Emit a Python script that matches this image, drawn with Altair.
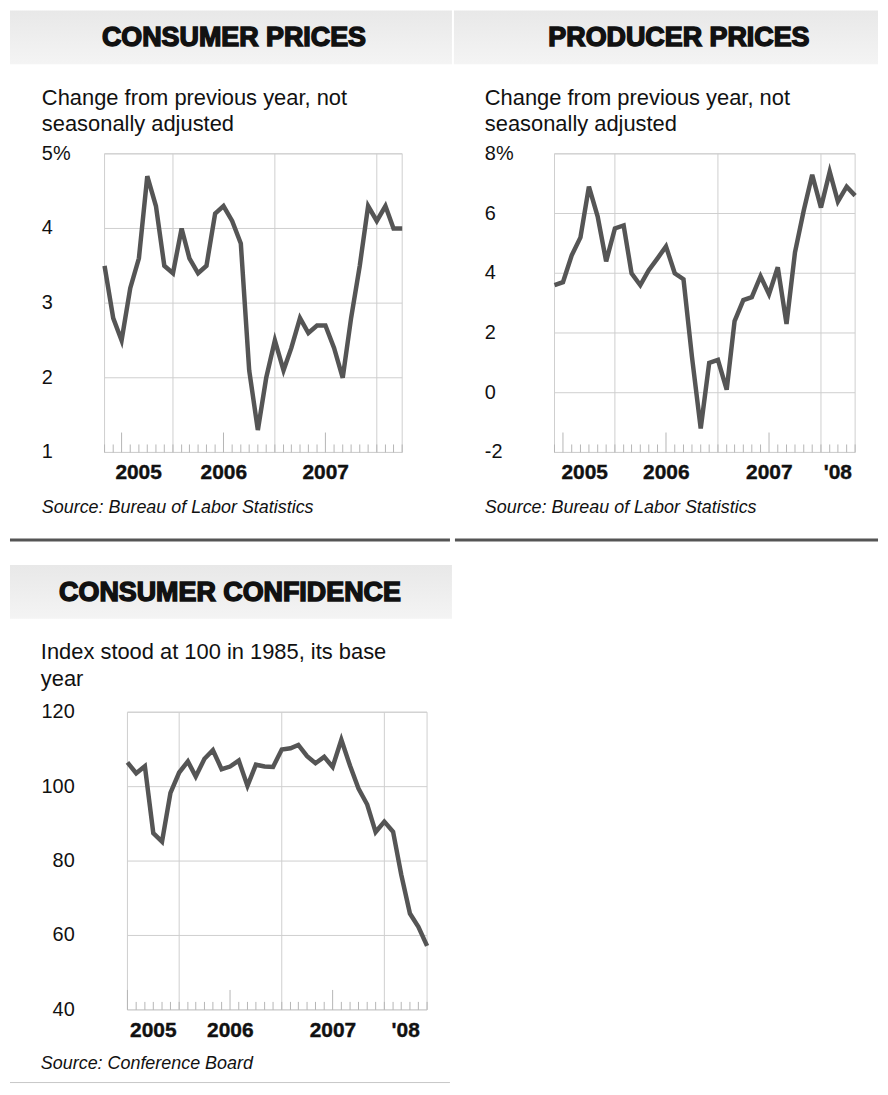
import altair as alt
import pandas as pd

# ---------------- data ----------------
# Consumer prices, % change from previous year, monthly Apr 2005 - Mar 2008
cpi_start = "2005-04"
cpi_values = [3.5, 2.8, 2.5, 3.2, 3.6, 4.7, 4.3, 3.5, 3.4, 4.0, 3.6, 3.4,
              3.5, 4.2, 4.3, 4.1, 3.8, 2.1, 1.3, 2.0, 2.5, 2.1, 2.4, 2.8,
              2.6, 2.7, 2.7, 2.4, 2.0, 2.8, 3.5, 4.3, 4.1, 4.3, 4.0, 4.0]

# Producer prices, % change from previous year, monthly May 2005 - Apr 2008
ppi_start = "2005-05"
ppi_values = [3.6, 3.7, 4.6, 5.2, 6.9, 5.9, 4.4, 5.5, 5.6, 4.0, 3.6, 4.1,
              4.5, 4.9, 4.0, 3.8, 1.2, -1.2, 1.0, 1.1, 0.1, 2.4, 3.1, 3.2,
              3.9, 3.3, 4.2, 2.3, 4.7, 6.1, 7.3, 6.2, 7.4, 6.4, 6.9, 6.6]

# Consumer confidence index (1985 = 100), monthly Jun 2005 - May 2008
conf_start = "2005-06"
conf_values = [106.5, 103.6, 105.5, 87.5, 85.2, 98.3, 103.8, 106.8, 102.7, 107.5, 109.8, 104.7,
               105.4, 107.0, 100.2, 105.9, 105.4, 105.3, 110.0, 110.3, 111.2, 108.2, 106.3, 108.0,
               105.3, 112.6, 105.6, 99.5, 95.2, 87.8, 90.6, 87.9, 76.4, 65.9, 62.3, 57.2]

cpi_ticks = [1, 2, 3, 4, 5]
cpi_tick_labels = ["1", "2", "3", "4", "5%"]
ppi_ticks = [-2, 0, 2, 4, 6, 8]
ppi_tick_labels = ["-2", "0", "2", "4", "6", "8%"]
conf_ticks = [40, 60, 80, 100, 120]
conf_tick_labels = ["40", "60", "80", "100", "120"]

years3 = ["2005", "2006", "2007"]
years4 = ["2005", "2006", "2007", "'08"]

# ---------------- styling ----------------
FONT = "Liberation Sans, Arial, Helvetica, sans-serif"
INK = "#111111"
LINE = "#555555"
GRID = "#cfcfcf"
TICK = "#b5b5b5"
O = 8  # page margin: page coordinates -> chart coordinates

band_fill = alt.Gradient(
    gradient="linear", x1=0, x2=0, y1=0, y2=1,
    stops=[alt.GradientStop(color="#e8e8e8", offset=0),
           alt.GradientStop(color="#f4f4f4", offset=1)])


def ms(ts):
    return int(pd.Timestamp(ts).timestamp() * 1000)


def text_layer(txt, x, y, **kw):
    return alt.Chart(pd.DataFrame({"t": [txt]})).mark_text(font=FONT, **kw).encode(
        text="t:N", x=alt.value(x - O), y=alt.value(y - O))


def panel(values, start, ydom, yvals, ylabels, title, sub, source, years,
          plot, band, title_xy, text_x, ylab_x, ylab_align, sub_y, year_y, source_y,
          divider, div_color, div_width):
    px0, px1, py0, py1 = [v - O for v in plot]
    periods = pd.period_range(start, periods=len(values), freq="M")
    # each monthly value is plotted at the end of its month
    dates = [(p + 1).start_time for p in periods]
    d0, d1 = dates[0], dates[-1]
    df = pd.DataFrame({"date": [d.strftime("%Y-%m-%d") for d in dates], "value": values})

    xs = alt.Scale(type="utc", domain=[ms(d0), ms(d1)], range=[px0, px1])
    ys = alt.Scale(domain=ydom, range=[py1, py0], nice=False, zero=False)

    X = alt.X("date:T", scale=xs, axis=None)

    grid_years = pd.DataFrame({"date": [f"{y}-01-01" for y in range(d0.year + 1, d1.year + 1)]})
    months = pd.date_range(d0, d1, freq="MS")
    small = pd.DataFrame({"date": [m.strftime("%Y-%m-%d") for m in months if m.month != 7]})
    tall = pd.DataFrame({"date": [m.strftime("%Y-%m-%d") for m in months if m.month == 7]})
    ytab = pd.DataFrame({"v": yvals, "lab": ylabels})

    lab_dates = []
    for i, lab in enumerate(years):
        y = d0.year + i
        a = max(d0, pd.Timestamp(f"{y}-01-01"))
        b = min(d1, pd.Timestamp(f"{y + 1}-01-01"))
        lab_dates.append((a + (b - a) / 2).strftime("%Y-%m-%d"))
    ylab = pd.DataFrame({"date": lab_dates, "label": years})

    one = pd.DataFrame({"t": [""]})
    layers = []

    layers.append(alt.Chart(one).mark_rect(fill=band_fill).encode(
        x=alt.value(band[0] - O), x2=alt.value(band[1] - O),
        y=alt.value(band[2] - O), y2=alt.value(band[3] - O)))

    # horizontal grid
    layers.append(alt.Chart(ytab).mark_rule(color=GRID, strokeWidth=1).encode(
        y=alt.Y("v:Q", scale=ys, axis=None), x=alt.value(px0), x2=alt.value(px1)))
    # vertical grid at year boundaries
    layers.append(alt.Chart(grid_years).mark_rule(color=GRID, strokeWidth=1).encode(
        x=X, y=alt.value(py0), y2=alt.value(py1)))
    # frame
    layers.append(alt.Chart(one).mark_rect(fillOpacity=0, stroke=GRID, strokeWidth=1).encode(
        x=alt.value(px0), x2=alt.value(px1), y=alt.value(py0), y2=alt.value(py1)))
    # monthly ticks
    layers.append(alt.Chart(small).mark_rule(color=TICK, strokeWidth=1).encode(
        x=X, y=alt.value(py1), y2=alt.value(py1 - 8)))
    layers.append(alt.Chart(tall).mark_rule(color=TICK, strokeWidth=1).encode(
        x=X, y=alt.value(py1), y2=alt.value(py1 - 20)))

    # data line
    layers.append(alt.Chart(df).mark_line(color=LINE, strokeWidth=4.5).encode(
        x=X, y=alt.Y("value:Q", scale=ys, axis=None)))

    # y labels
    layers.append(alt.Chart(ytab).mark_text(
        font=FONT, fontSize=20, color=INK, align=ylab_align, baseline="middle").encode(
        y=alt.Y("v:Q", scale=ys, axis=None), x=alt.value(ylab_x - O), text="lab:N"))

    # year labels
    layers.append(alt.Chart(ylab).mark_text(
        font=FONT, fontSize=21, fontWeight="bold", color=INK, stroke=INK, strokeWidth=0.4,
        align="center", baseline="middle").encode(
        x=X, y=alt.value(year_y - O), text="label:N"))

    layers.append(text_layer(title, title_xy[0], title_xy[1], fontSize=27, fontWeight="bold",
                             fill=INK, stroke=INK, strokeWidth=1.5,
                             align="center", baseline="middle"))
    for line_txt, yy in zip(sub, sub_y):
        layers.append(text_layer(line_txt, text_x, yy, fontSize=22, color=INK,
                                 align="left", baseline="middle"))
    layers.append(text_layer(source, text_x, source_y, fontSize=18, fontStyle="italic",
                             color=INK, align="left", baseline="middle"))

    layers.append(alt.Chart(one).mark_rule(color=div_color, strokeWidth=div_width).encode(
        x=alt.value(divider[0] - O), x2=alt.value(divider[1] - O), y=alt.value(divider[2] - O)))
    return layers


# all positions below are page pixels
p1 = panel(cpi_values, cpi_start, [1, 5], cpi_ticks, cpi_tick_labels, "CONSUMER PRICES",
           ["Change from previous year, not", "seasonally adjusted"],
           "Source: Bureau of Labor Statistics", years3,
           plot=(103, 402, 152, 452), band=(8, 452, 8, 62), title_xy=(233, 36),
           text_x=40, ylab_x=40, ylab_align="left", sub_y=(96, 122), year_y=473,
           source_y=508, divider=(8, 450, 540), div_color="#555555", div_width=3)

p2 = panel(ppi_values, ppi_start, [-2, 8], ppi_ticks, ppi_tick_labels, "PRODUCER PRICES",
           ["Change from previous year, not", "seasonally adjusted"],
           "Source: Bureau of Labor Statistics", years4,
           plot=(555, 857, 152, 452), band=(454, 880, 8, 62), title_xy=(680, 36),
           text_x=485, ylab_x=485, ylab_align="left", sub_y=(96, 122), year_y=473,
           source_y=508, divider=(455, 880, 540), div_color="#555555", div_width=3)

p3 = panel(conf_values, conf_start, [40, 120], conf_ticks, conf_tick_labels, "CONSUMER CONFIDENCE",
           ["Index stood at 100 in 1985, its base", "year"],
           "Source: Conference Board", years4,
           plot=(126, 427, 713, 1012), band=(8, 452, 565, 619), title_xy=(229, 593),
           text_x=39, ylab_x=73, ylab_align="right", sub_y=(653, 680), year_y=1033,
           source_y=1066, divider=(8, 450, 1085), div_color="#c8c8c8", div_width=1)

chart = alt.layer(*p1, *p2, *p3).properties(
    width=872, height=1078, padding=0, background="white"
).resolve_scale(x="independent", y="independent").configure_view(stroke="transparent")

chart.save("out.html", embed_options={"renderer": "svg", "actions": False})
